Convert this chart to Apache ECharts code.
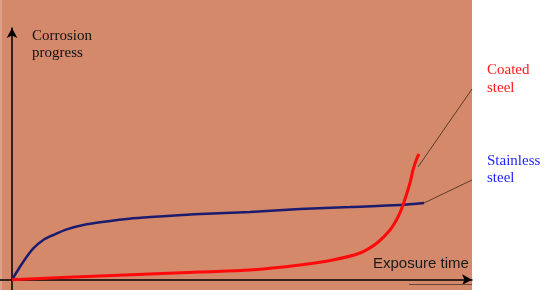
<!DOCTYPE html>
<html><head><meta charset="utf-8">
<script src="https://cdn.jsdelivr.net/npm/echarts@6/dist/echarts.min.js"></script>
<style>html,body{margin:0;padding:0;background:#fff}#c{width:546px;height:290px}</style>
</head><body><div id="c"></div>
<script>
// Exposure time (arbitrary units) and corrosion progress (arbitrary units)
const stainlessX = [0, 1.74, 3.2, 4.63, 6.8, 8.98, 11.89, 15.5, 19.13, 26.37, 33.63, 40.87, 51.74, 62.61, 73.48, 84.35, 89.57];
const stainlessY = [0, 5.16, 9.14, 12.48, 15.77, 17.76, 20.02, 21.73, 22.8, 24.39, 25.31, 26.1, 26.9, 28.09, 28.89, 29.68, 30.48];
const coatedX = [0, 19.13, 40.87, 51.74, 62.61, 69.78, 75.65, 79.35, 82.17, 83.91, 85.0, 86.52, 87.17, 88.04, 88.48];
const coatedY = [0, 1.47, 3.06, 3.85, 5.84, 7.83, 10.61, 14.58, 19.75, 24.91, 29.68, 38.42, 43.58, 48.35, 49.94];
const coatedLeaderX = [88.26, 100];
const coatedLeaderY = [44.78, 75.76];
const stainlessLeaderX = [89.57, 100];
const stainlessLeaderY = [30.48, 39.61];
const labels = {y: 'Corrosion\nprogress', x: 'Exposure time', coated: 'Coated\nsteel', stainless: 'Stainless\nsteel'};

const zip = (xs, ys) => xs.map((x, i) => [x, ys[i]]);
const chart = echarts.init(document.getElementById('c'), null, {renderer: 'canvas'});
const serif = 'Liberation Serif';
const sans = 'Liberation Sans';
chart.setOption({
  animation: false,
  backgroundColor: '#ffffff',
  grid: {left: 0, right: 74, top: 28, bottom: 0},
  xAxis: {
    type: 'value', min: -2.61, max: 100,
    splitLine: {show: false}, axisTick: {show: false}, axisLabel: {show: false},
    axisLine: {onZero: true, lineStyle: {color: '#000', width: 1.5}, symbol: ['none', 'arrow'], symbolSize: [8, 10]}
  },
  yAxis: {
    type: 'value', min: -4.09, max: 100,
    splitLine: {show: false}, axisTick: {show: false}, axisLabel: {show: false},
    axisLine: {onZero: true, lineStyle: {color: '#000', width: 1.5}, symbol: ['none', 'arrow'], symbolSize: [8, 10]}
  },
  graphic: [
    {type: 'rect', z: -10, silent: true, shape: {x: 0, y: 0, width: 472, height: 290}, style: {fill: '#D4896B'}},
    {type: 'rect', z: -9, silent: true, shape: {x: 0, y: 0, width: 2, height: 290}, style: {fill: '#DDA088'}},
    {type: 'line', z: 1, silent: true, shape: {x1: 409, y1: 284.5, x2: 472, y2: 284.5}, style: {stroke: '#6b4636', lineWidth: 1.2}},
    {type: 'text', left: 32, top: 28, style: {text: labels.y, fontFamily: serif, fontSize: 15, fill: '#111', lineHeight: 17}},
    {type: 'text', left: 373, top: 256, style: {text: labels.x, fontFamily: sans, fontSize: 15, fill: '#1a1a1a'}},
    {type: 'text', left: 487, top: 61, style: {text: labels.coated, fontFamily: serif, fontSize: 15, fill: '#ff1a1a', lineHeight: 18}},
    {type: 'text', left: 487, top: 153, style: {text: labels.stainless, fontFamily: serif, fontSize: 15, fill: '#1f1fff', lineHeight: 17}}
  ],
  series: [
    {type: 'line', data: zip(coatedLeaderX, coatedLeaderY), showSymbol: false, lineStyle: {color: '#5a3a2c', width: 1}, z: 1},
    {type: 'line', data: zip(stainlessLeaderX, stainlessLeaderY), showSymbol: false, lineStyle: {color: '#5a3a2c', width: 1}, z: 1},
    {type: 'line', data: zip(stainlessX, stainlessY), showSymbol: false, smooth: 0.3, lineStyle: {color: '#1c1c6e', width: 2.5}, z: 3},
    {type: 'line', data: zip(coatedX, coatedY), showSymbol: false, smooth: 0.3, lineStyle: {color: '#ff0a0a', width: 3}, z: 4}
  ]
});
</script></body></html>
